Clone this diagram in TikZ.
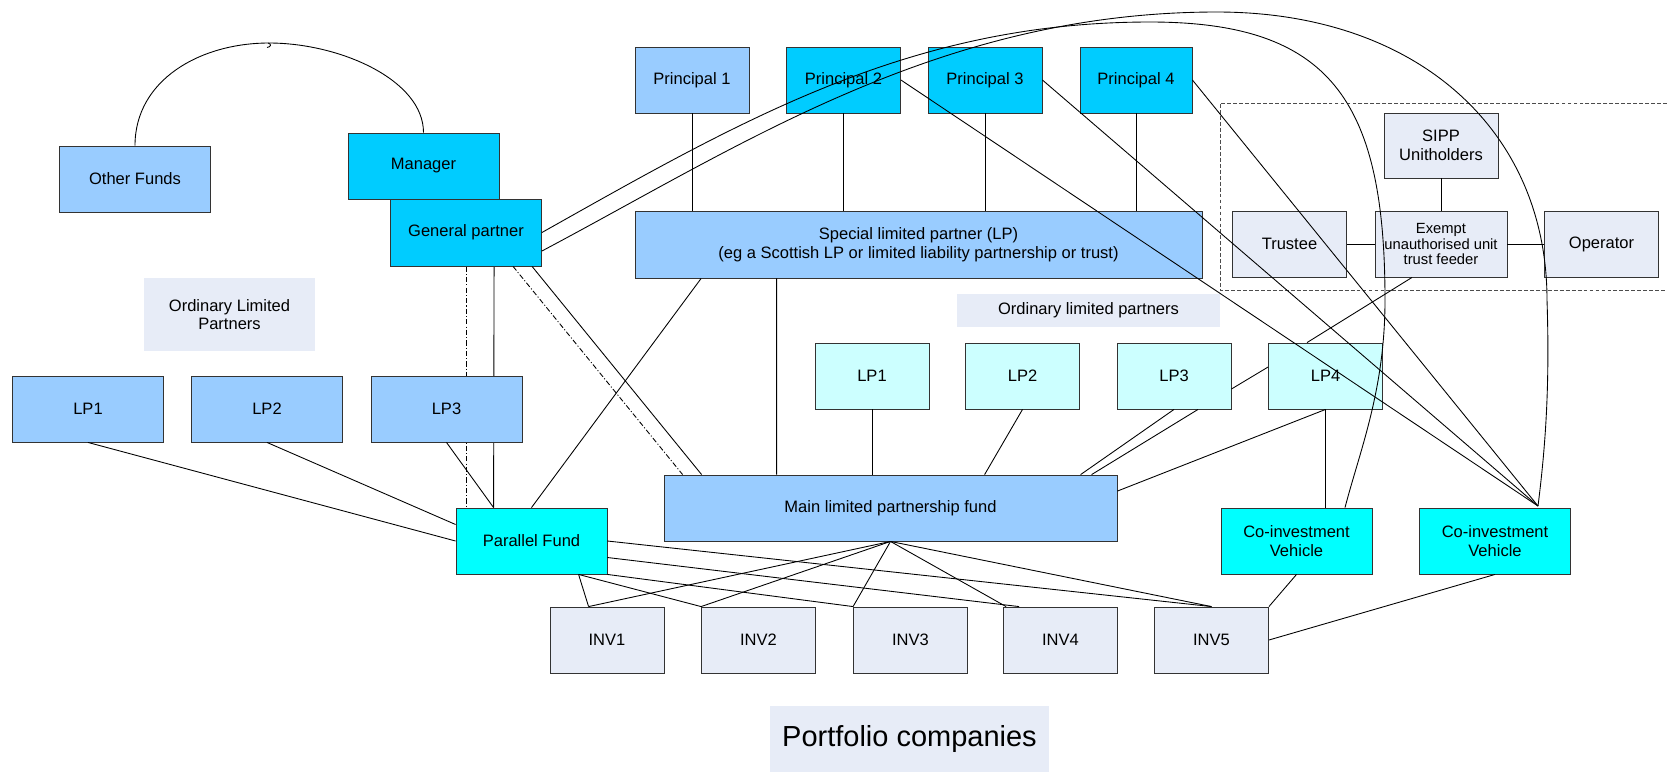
\documentclass[tikz,border=0pt]{standalone}
\usepackage{fontspec}
\setmainfont{Liberation Sans}
\usetikzlibrary{calc,backgrounds}
\definecolor{fundblue}{HTML}{99CCFF}
\definecolor{skyblue}{HTML}{00CCFF}
\definecolor{vehcyan}{HTML}{00FFFF}
\definecolor{lpcyan}{HTML}{CCFFFF}
\definecolor{paleblue}{HTML}{E7ECF7}
\begin{document}
\begin{tikzpicture}[x=0.02cm,y=-0.02cm]
\tikzstyle{box}=[draw=black!80,line width=0.5pt,inner sep=0pt,align=center,minimum width=2.28cm,minimum height=1.32cm,font=\fontsize{9.4}{10.5}\selectfont]
\tikzstyle{wide}=[minimum width=3.02cm]
\tikzstyle{fundbox}=[box,fill=fundblue]
\tikzstyle{gpbox}=[box,fill=skyblue]
\tikzstyle{vehbox}=[box,fill=vehcyan]
\tikzstyle{lpbox}=[box,fill=lpcyan]
\tikzstyle{palebox}=[box,fill=paleblue]
\tikzstyle{caption}=[fill=paleblue,inner sep=0pt,align=center,font=\fontsize{9.4}{10.5}\selectfont]
\tikzstyle{link}=[line width=0.5pt]
\tikzstyle{dashdot}=[link,dash pattern=on 3pt off 1.2pt on 0.6pt off 1.2pt]
\useasboundingbox (0,0) rectangle (1667,772);
\draw[draw=black!70,line width=0.55pt,dash pattern=on 2.2pt off 1.2pt] (1667,103) -- (1220,103) -- (1220,290) -- (1667,290);
\node[fundbox,wide] (ofund) at (135,179) {Other Funds};
\node[gpbox,wide] (mgr) at (423.5,166) {Manager};
\node[gpbox,wide,minimum height=1.34cm] (gp) at (466,232.5) {General partner};
\node[caption,minimum width=3.42cm,minimum height=1.46cm] (olp) at (229.5,314.5) {Ordinary Limited\\Partners};
\node[fundbox] (pr1) at (692,80) {Principal 1};
\node[gpbox] (pr2) at (843.5,80) {Principal 2};
\node[gpbox] (pr3) at (985,80) {Principal 3};
\node[gpbox,minimum width=2.24cm] (pr4) at (1136,80) {Principal 4};
\node[fundbox,minimum width=11.34cm,minimum height=1.34cm] (slp) at (918.5,244.5) {Special limited partner (LP)\\(eg a Scottish LP or limited liability partnership or trust)};
\node[caption,minimum width=5.26cm,minimum height=0.66cm] (olp2) at (1088.5,310.5) {Ordinary limited partners};
\node[palebox,minimum height=1.3cm] (sipp) at (1441,145.5) {SIPP\\Unitholders};
\node[palebox] (trustee) at (1289.5,244) {Trustee};
\node[palebox,minimum width=2.64cm,font=\fontsize{8.4}{8.6}\selectfont] (eut) at (1441,244) {Exempt\\unauthorised unit\\trust feeder};
\node[palebox] (oper) at (1601.5,244) {Operator};
\node[fundbox,wide] (llp1) at (88,409) {LP1};
\node[fundbox,wide] (llp2) at (267,409) {LP2};
\node[fundbox,wide] (llp3) at (446.5,409) {LP3};
\node[vehbox,wide] (pf) at (531.5,541) {Parallel Fund};
\node[lpbox] (rlp1) at (872,376) {LP1};
\node[lpbox] (rlp2) at (1022.5,376) {LP2};
\node[lpbox] (rlp3) at (1174,376) {LP3};
\node[lpbox] (rlp4) at (1325.5,376) {LP4};
\node[fundbox,minimum width=9.06cm] (main) at (890.5,508) {Main limited partnership fund};
\node[vehbox,wide] (cv1) at (1296.5,541) {Co-investment\\Vehicle};
\node[vehbox,wide] (cv2) at (1495,541) {Co-investment\\Vehicle};
\node[palebox] (inv1) at (607,640) {INV1};
\node[palebox] (inv2) at (758.5,640) {INV2};
\node[palebox] (inv3) at (910.5,640) {INV3};
\node[palebox] (inv4) at (1060.5,640) {INV4};
\node[palebox] (inv5) at (1211.5,640) {INV5};
\node[caption,minimum width=5.58cm,minimum height=1.32cm,font=\fontsize{16.5}{18}\selectfont] (port) at (909.5,739) {Portfolio companies};
\coordinate (cvin) at (1538,506);
\coordinate (pfin) at ($(pf.north west)+(38,0)$);
\coordinate (pfout) at ($(pf.south west)+(123,0)$);
\coordinate (inv1in) at ($(inv1.north west)+(39,0)$);
\begin{pgfonlayer}{background}
\draw[link] ($(gp.south west)+(104,0)$) -- (pfin);
\draw[dashdot] (gp.south) -- (gp.south |- pf.north);
\end{pgfonlayer}
\draw[link] (ofund.north) .. controls (135,80) and (200,43) .. (269,43) .. controls (340,43) and (423.5,80) .. (mgr.north);
\draw[link] (268,43) .. controls (272,44) and (271,47) .. (267,47.5);
\draw[link] ($(gp.south west)+(142,0)$) -- ($(main.north west)+(38,0)$);
\draw[dashdot] ($(gp.south west)+(123,0)$) -- ($(main.north west)+(19,0)$);
\draw[link] (gp.east) .. controls (742,120) and (910,22) .. (1150,22) .. controls (1330,22) and (1385,100) .. (1385,300) .. controls (1385,390) and (1360,450) .. ($(cv1.north)+(48.5,0)$);
\draw[link] ($(gp.east)+(0,18.5)$) .. controls (742,145) and (940,12) .. (1217,12) .. controls (1417,12) and (1547,130) .. (1547,300) .. controls (1550,390) and (1545,450) .. (cvin);
\draw[link] (pr1.south) -- (pr1.south |- slp.north);
\draw[link] (pr2.south) -- (pr2.south |- slp.north);
\draw[link] (pr3.south) -- (pr3.south |- slp.north);
\draw[link] (pr4.south) -- (pr4.south |- slp.north);
\draw[link] (pr2.east) -- (cvin);
\draw[link] (pr3.east) -- (cvin);
\draw[link] (pr4.east) -- (cvin);
\draw[link] ($(slp.south west)+(66.5,0)$) -- (pf.north);
\draw[link] ($(slp.south west)+(142,0)$) -- ($(main.north west)+(113,0)$);
\draw[link] (sipp.south) -- (eut.north);
\draw[link] (trustee.east) -- (eut.west);
\draw[link] (eut.east) -- (oper.west);
\draw[link] ($(eut.south)+(-29,0)$) -- ($(rlp4.north)+(-18.5,0)$);
\draw[link] (llp1.south) -- (pf.west);
\draw[link] (llp2.south) -- ($(pf.west)+(0,-16.5)$);
\draw[link] (llp3.south) -- (pfin);
\draw[link] (rlp1.south) -- (rlp1.south |- main.north);
\draw[link] (rlp2.south) -- ($(main.north west)+(321,0)$);
\draw[link] (rlp3.south) -- ($(main.north west)+(417,0)$);
\draw[link] ($(rlp3.south)+(24,0)$) -- ($(main.north west)+(428,0)$);
\draw[link] ($(rlp3.east)+(0,13)$) -- ($(rlp4.west)+(0,-9)$);
\draw[link] (rlp4.south) -- ($(main.north east)+(0,16.5)$);
\draw[link] (rlp4.south) -- (rlp4.south |- cv1.north);
\draw[link] (pf.east) -- (inv5.north);
\draw[link] ($(pf.east)+(0,16.5)$) -- ($(inv4.north west)+(16,0)$);
\draw[link] (pf.south east) -- (inv3.north west);
\draw[link] (pfout) -- (inv2.north west);
\draw[link] (pfout) -- (inv1in);
\draw[link] (main.south) -- (inv1in);
\draw[link] (main.south) -- (inv2.north west);
\draw[link] (main.south) -- (inv3.north west);
\draw[link] (main.south) -- ($(inv4.north west)+(3,0)$);
\draw[link] (main.south) -- (inv5.north);
\draw[link] (cv1.south) -- (inv5.north east);
\draw[link] (cv2.south) -- (inv5.east);
\end{tikzpicture}
\end{document}
